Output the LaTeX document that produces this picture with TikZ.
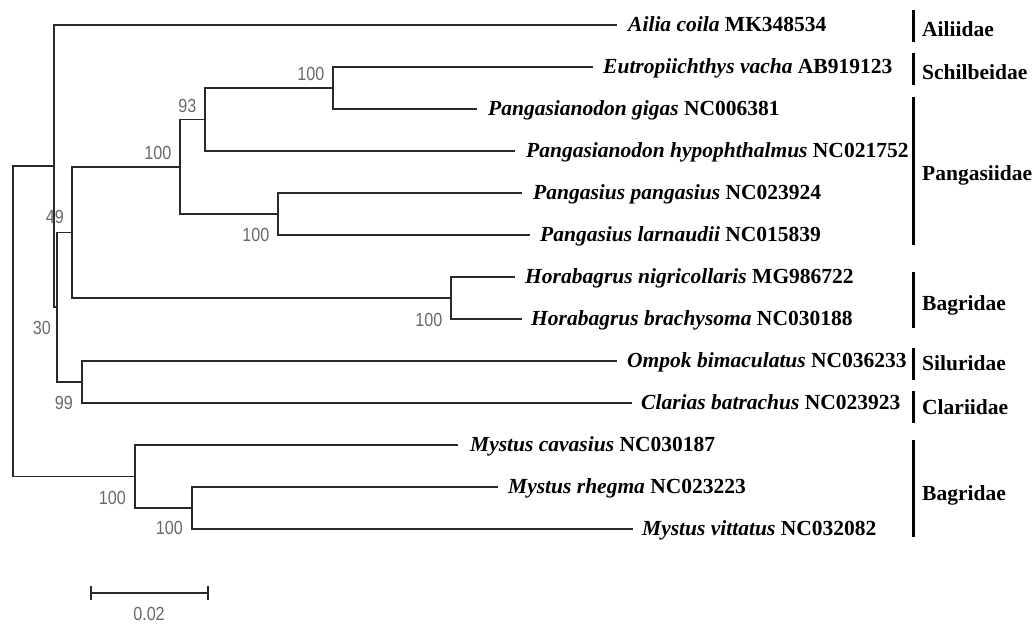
\documentclass[tikz,border=0pt]{standalone}
\usepackage{fontspec}
\setmainfont{Liberation Serif}
\newfontfamily\bsfont{Liberation Sans}
\usepackage{graphicx}
\definecolor{treeline}{RGB}{40,40,40}
\definecolor{bsgray}{RGB}{105,105,105}
\newcommand{\bsv}[1]{\scalebox{0.85}[1]{#1}}
\begin{document}
\begin{tikzpicture}[x=1pt,y=-1pt,
  branch/.style={draw=treeline, line width=1.8pt, line join=miter},
  leaflabel/.style={anchor=base west, inner sep=0pt, font=\fontsize{21.5}{24}\selectfont\bfseries},
  famlabel/.style={anchor=base west, inner sep=0pt, font=\fontsize{21.5}{24}\selectfont\bfseries},
  fambar/.style={draw=black, line width=3pt},
  bslabel/.style={inner sep=0pt, anchor=east, text=bsgray, font=\bsfont\fontsize{19}{19}\selectfont},
]
\useasboundingbox (0,0) rectangle (1033,625);

% internal nodes
\coordinate (root)   at (13,321.3);
\coordinate (n54)    at (54,166.1);
\coordinate (n30)    at (57,307.2);
\coordinate (n49)    at (72,232.4);
\coordinate (n100a)  at (180,166.75);
\coordinate (n93)    at (205,119.5);
\coordinate (nEG)    at (333,88);
\coordinate (nPang)  at (278,214);
\coordinate (nHor)   at (451,298);
\coordinate (n99)    at (82,382);
\coordinate (nMys)   at (135,476.5);
\coordinate (nMysIn) at (192,508);

% tips
\coordinate (tAilia) at (617,25);
\coordinate (tEutr)  at (593,67);
\coordinate (tGigas) at (477,109);
\coordinate (tHypo)  at (515,151);
\coordinate (tPang)  at (522,193);
\coordinate (tLarn)  at (530,235);
\coordinate (tHnig)  at (515,277);
\coordinate (tHbra)  at (522,319);
\coordinate (tOmp)   at (617,361);
\coordinate (tClar)  at (632,403);
\coordinate (tCav)   at (458,445);
\coordinate (tRheg)  at (498,487);
\coordinate (tVitt)  at (633,529);

% branches
\draw[branch] (root) |- (n54);
\draw[branch] (root) |- (nMys);
\draw[branch] (n54) |- (tAilia);
\draw[branch] (n54) |- (n30);
\draw[branch] (n30) |- (n49);
\draw[branch] (n30) |- (n99);
\draw[branch] (n49) |- (n100a);
\draw[branch] (n49) |- (nHor);
\draw[branch] (n100a) |- (n93);
\draw[branch] (n100a) |- (nPang);
\draw[branch] (n93) |- (nEG);
\draw[branch] (n93) |- (tHypo);
\draw[branch] (nEG) |- (tEutr);
\draw[branch] (nEG) |- (tGigas);
\draw[branch] (nPang) |- (tPang);
\draw[branch] (nPang) |- (tLarn);
\draw[branch] (nHor) |- (tHnig);
\draw[branch] (nHor) |- (tHbra);
\draw[branch] (n99) |- (tOmp);
\draw[branch] (n99) |- (tClar);
\draw[branch] (nMys) |- (tCav);
\draw[branch] (nMys) |- (nMysIn);
\draw[branch] (nMysIn) |- (tRheg);
\draw[branch] (nMysIn) |- (tVitt);

% leaf labels
\node[leaflabel] (lAilia) at ([xshift=11pt,yshift=-6pt]tAilia) {\textit{Ailia coila} MK348534};
\node[leaflabel] (lEutr)  at ([xshift=10pt,yshift=-6pt]tEutr)  {\textit{Eutropiichthys vacha} AB919123};
\node[leaflabel] (lGigas) at ([xshift=11pt,yshift=-6pt]tGigas) {\textit{Pangasianodon gigas} NC006381};
\node[leaflabel] (lHypo)  at ([xshift=11pt,yshift=-6pt]tHypo)  {\textit{Pangasianodon hypophthalmus} NC021752};
\node[leaflabel] (lPang)  at ([xshift=11pt,yshift=-6pt]tPang)  {\textit{Pangasius pangasius} NC023924};
\node[leaflabel] (lLarn)  at ([xshift=10pt,yshift=-6pt]tLarn)  {\textit{Pangasius larnaudii} NC015839};
\node[leaflabel] (lHnig)  at ([xshift=10pt,yshift=-6pt]tHnig)  {\textit{Horabagrus nigricollaris} MG986722};
\node[leaflabel] (lHbra)  at ([xshift=9pt,yshift=-6pt]tHbra)   {\textit{Horabagrus brachysoma} NC030188};
\node[leaflabel] (lOmp)   at ([xshift=10pt,yshift=-6pt]tOmp)   {\textit{Ompok bimaculatus} NC036233};
\node[leaflabel] (lClar)  at ([xshift=9pt,yshift=-6pt]tClar)   {\textit{Clarias batrachus} NC023923};
\node[leaflabel] (lCav)   at ([xshift=12pt,yshift=-6pt]tCav)   {\textit{Mystus cavasius} NC030187};
\node[leaflabel] (lRheg)  at ([xshift=10pt,yshift=-6pt]tRheg)  {\textit{Mystus rhegma} NC023223};
\node[leaflabel] (lVitt)  at ([xshift=9pt,yshift=-6pt]tVitt)   {\textit{Mystus vittatus} NC032082};

% bootstrap values
\node[bslabel] (bEG)    at ([xshift=-8.5pt,yshift=14pt]nEG)     {\bsv{100}};
\node[bslabel] (b93)    at ([xshift=-8.5pt,yshift=14pt]n93)     {\bsv{93}};
\node[bslabel] (b100a)  at ([xshift=-8.5pt,yshift=14pt]n100a)   {\bsv{100}};
\node[bslabel] (b49)    at ([xshift=-8pt,yshift=15pt]n49)       {\bsv{49}};
\node[bslabel] (b30)    at ([xshift=-6pt,yshift=-21pt]n30)      {\bsv{30}};
\node[bslabel] (b99)    at ([xshift=-9pt,yshift=-21pt]n99)      {\bsv{99}};
\node[bslabel] (bPang)  at ([xshift=-8.5pt,yshift=-21pt]nPang)  {\bsv{100}};
\node[bslabel] (bHor)   at ([xshift=-8.5pt,yshift=-22pt]nHor)   {\bsv{100}};
\node[bslabel] (bMys)   at ([xshift=-9pt,yshift=-21.5pt]nMys)   {\bsv{100}};
\node[bslabel] (bMysIn) at ([xshift=-9pt,yshift=-20pt]nMysIn)   {\bsv{100}};

% family bars
\coordinate (fA1) at (913,10);  \coordinate (fA2) at (913,42);
\coordinate (fS1) at (913,53);  \coordinate (fS2) at (913,85);
\coordinate (fP1) at (913,97);  \coordinate (fP2) at (913,245);
\coordinate (fB1) at (913,272); \coordinate (fB2) at (913,328);
\coordinate (fSi1) at (913,348); \coordinate (fSi2) at (913,380);
\coordinate (fC1) at (913,391); \coordinate (fC2) at (913,423);
\coordinate (fM1) at (913,440); \coordinate (fM2) at (913,537);
\draw[fambar] (fA1) -- (fA2);
\draw[fambar] (fS1) -- (fS2);
\draw[fambar] (fP1) -- (fP2);
\draw[fambar] (fB1) -- (fB2);
\draw[fambar] (fSi1) -- (fSi2);
\draw[fambar] (fC1) -- (fC2);
\draw[fambar] (fM1) -- (fM2);
\node[famlabel] (famA)  at (922,36)  {Ailiidae};
\node[famlabel] (famS)  at (922,79)  {Schilbeidae};
\node[famlabel] (famP)  at (922,180) {Pangasiidae};
\node[famlabel] (famB)  at (922,310) {Bagridae};
\node[famlabel] (famSi) at (922,370) {Siluridae};
\node[famlabel] (famC)  at (922,414) {Clariidae};
\node[famlabel] (famM)  at (922,500) {Bagridae};

% scale bar
\coordinate (sbL) at (91,593);
\coordinate (sbR) at (208,593);
\draw[branch] (sbL) -- (sbR);
\draw[branch] ([yshift=7pt]sbL) -- ([yshift=-7pt]sbL);
\draw[branch] ([yshift=7pt]sbR) -- ([yshift=-7pt]sbR);
\node[inner sep=0pt, text=bsgray, font=\bsfont\fontsize{19}{19}\selectfont] (sbText) at (149,614) {\bsv{0.02}};
\end{tikzpicture}
\end{document}
